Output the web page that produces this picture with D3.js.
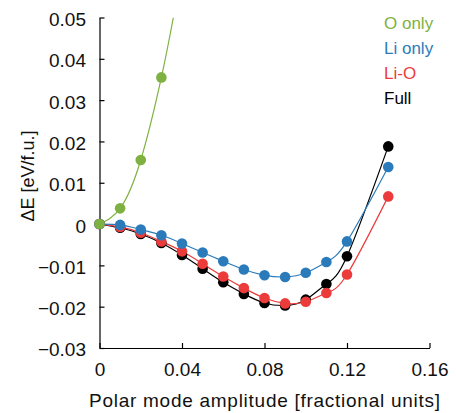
<!DOCTYPE html>
<html>
<head>
<meta charset="utf-8">
<script src="https://cdn.jsdelivr.net/npm/d3@7"></script>
<style>
  body { margin: 0; background: #fff; }
  svg { display: block; font-family: "Liberation Sans", Arial, Helvetica, sans-serif; }
  .axis path, .axis line { stroke: #000; stroke-width: 1.2; }
  .axis text { font-size: 19px; fill: #111; }
</style>
</head>
<body>
<div id="chart"></div>
<script>
const WIDTH = 456;
const HEIGHT = 413;

// amplitudes (fractional units)
const ampO = [0, 0.01, 0.02, 0.03];
const amp = [0, 0.01, 0.02, 0.03, 0.04, 0.05, 0.06, 0.07, 0.08, 0.09, 0.10, 0.11, 0.12, 0.14];

// energies, eV/f.u.
const oOnly = [0, 0.0038, 0.0155, 0.0355];
const oOnlyFitEnd = [0.0358, 0.05]; // where the O-only fit leaves the top of the plot
const liOnly = [0, -0.0002, -0.0013, -0.0027, -0.0047, -0.0069, -0.0090, -0.0110, -0.0124, -0.0128, -0.0118, -0.0092, -0.0042, 0.0138];
const liO = [0, -0.0007, -0.0021, -0.0042, -0.0066, -0.0096, -0.0127, -0.0155, -0.0179, -0.0192, -0.0188, -0.0167, -0.0122, 0.0067];
const full = [0, -0.0009, -0.0024, -0.0046, -0.0075, -0.0108, -0.0141, -0.0169, -0.0191, -0.0197, -0.0183, -0.0145, -0.0078, 0.0188];

const xTicks = [0, 0.04, 0.08, 0.12, 0.16];
const yTicks = [-0.03, -0.02, -0.01, 0, 0.01, 0.02, 0.03, 0.04, 0.05];
const legendLabels = ["O only", "Li only", "Li-O", "Full"];

const GREEN = "#7fb142", BLUE = "#2b7bbb", RED = "#ec3b3b", BLACK = "#000";

let margin = {top: 17.5, right: 26.5, bottom: 65, left: 99.5};
let width = WIDTH - margin.left - margin.right;
let height = HEIGHT - margin.top - margin.bottom;

let xScale = d3.scaleLinear().domain([0, 0.16]).range([0, width]);
let yScale = d3.scaleLinear().domain([-0.03, 0.05]).range([height, 0]);

let svg = d3.select("#chart").append("svg")
    .attr("width", WIDTH)
    .attr("height", HEIGHT);
let svgG = svg.append("g")
    .attr("transform", "translate(" + margin.left + "," + margin.top + ")");

svg.append("defs").append("clipPath").attr("id", "plotclip")
  .append("rect").attr("x", 0).attr("y", 0).attr("width", width).attr("height", height);

// 0 shown as "0", negatives with a real minus sign
let fmt = function(d) {
  if (d === 0) return "0";
  let s = Math.abs(d).toFixed(2);
  return (d < 0 ? "\u2212" : "") + s;
};

// x-axis
let xAxis = d3.axisBottom(xScale).tickValues(xTicks).tickSizeInner(-5).tickSizeOuter(0)
    .tickPadding(14.5).tickFormat(fmt);
svgG.append("g")
    .attr("class", "x axis")
    .attr("transform", "translate(0," + height + ")")
    .call(xAxis);

// y-axis
let yAxis = d3.axisLeft(yScale).tickValues(yTicks).tickSizeInner(-5).tickSizeOuter(0)
    .tickPadding(13.5).tickFormat(fmt);
let yG = svgG.append("g")
    .attr("class", "y axis")
    .call(yAxis);
yG.selectAll("text").attr("dy", "0.42em");

// axis labels
svg.append("text")
    .attr("x", margin.left + width / 2)
    .attr("y", 407)
    .attr("text-anchor", "middle")
    .style("font-size", "19px")
    .attr("textLength", 351)
    .attr("lengthAdjust", "spacing")
    .style("fill", "#111")
    .text("Polar mode amplitude [fractional units]");

svg.append("text")
    .attr("transform", "translate(34,176) rotate(-90)")
    .attr("text-anchor", "middle")
    .style("font-size", "18px")
    .attr("textLength", 91)
    .attr("lengthAdjust", "spacing")
    .style("fill", "#111")
    .text("ΔE [eV/f.u.]");

// series, drawn back to front
let series = [
  {name: "Full", xs: amp, ys: full, color: BLACK},
  {name: "Li-O", xs: amp, ys: liO, color: RED},
  {name: "Li only", xs: amp, ys: liOnly, color: BLUE},
  {name: "O only", xs: ampO, ys: oOnly, color: GREEN, tail: oOnlyFitEnd}
];

let line = d3.line()
    .x(function(d) { return xScale(d[0]); })
    .y(function(d) { return yScale(d[1]); })
    .curve(d3.curveNatural);

let plot = svgG.append("g").attr("clip-path", "url(#plotclip)");

for (const s of series) {
  let pts = s.xs.map(function(x, i) { return [x, s.ys[i]]; });
  let linePts = s.tail ? pts.concat([s.tail]) : pts;
  plot.append("path")
      .datum(linePts)
      .attr("fill", "none")
      .attr("stroke", s.color)
      .attr("stroke-width", 1.2)
      .attr("d", line);
}
for (const s of series) {
  let pts = s.xs.map(function(x, i) { return [x, s.ys[i]]; });
  svgG.append("g").selectAll(".dot")
      .data(pts)
    .enter().append("circle")
      .attr("class", "dot")
      .attr("r", 5.3)
      .attr("cx", function(d) { return xScale(d[0]); })
      .attr("cy", function(d) { return yScale(d[1]); })
      .style("fill", s.color);
}

// legend (text only)
let legendColors = [GREEN, BLUE, RED, BLACK];
svg.append("g").selectAll("text")
    .data(legendLabels)
  .enter().append("text")
    .attr("x", 384)
    .attr("y", function(d, i) { return 29.3 + i * 24.9; })
    .style("font-size", "17px")
    .style("fill", function(d, i) { return legendColors[i]; })
    .text(function(d) { return d; });
</script>
</body>
</html>
